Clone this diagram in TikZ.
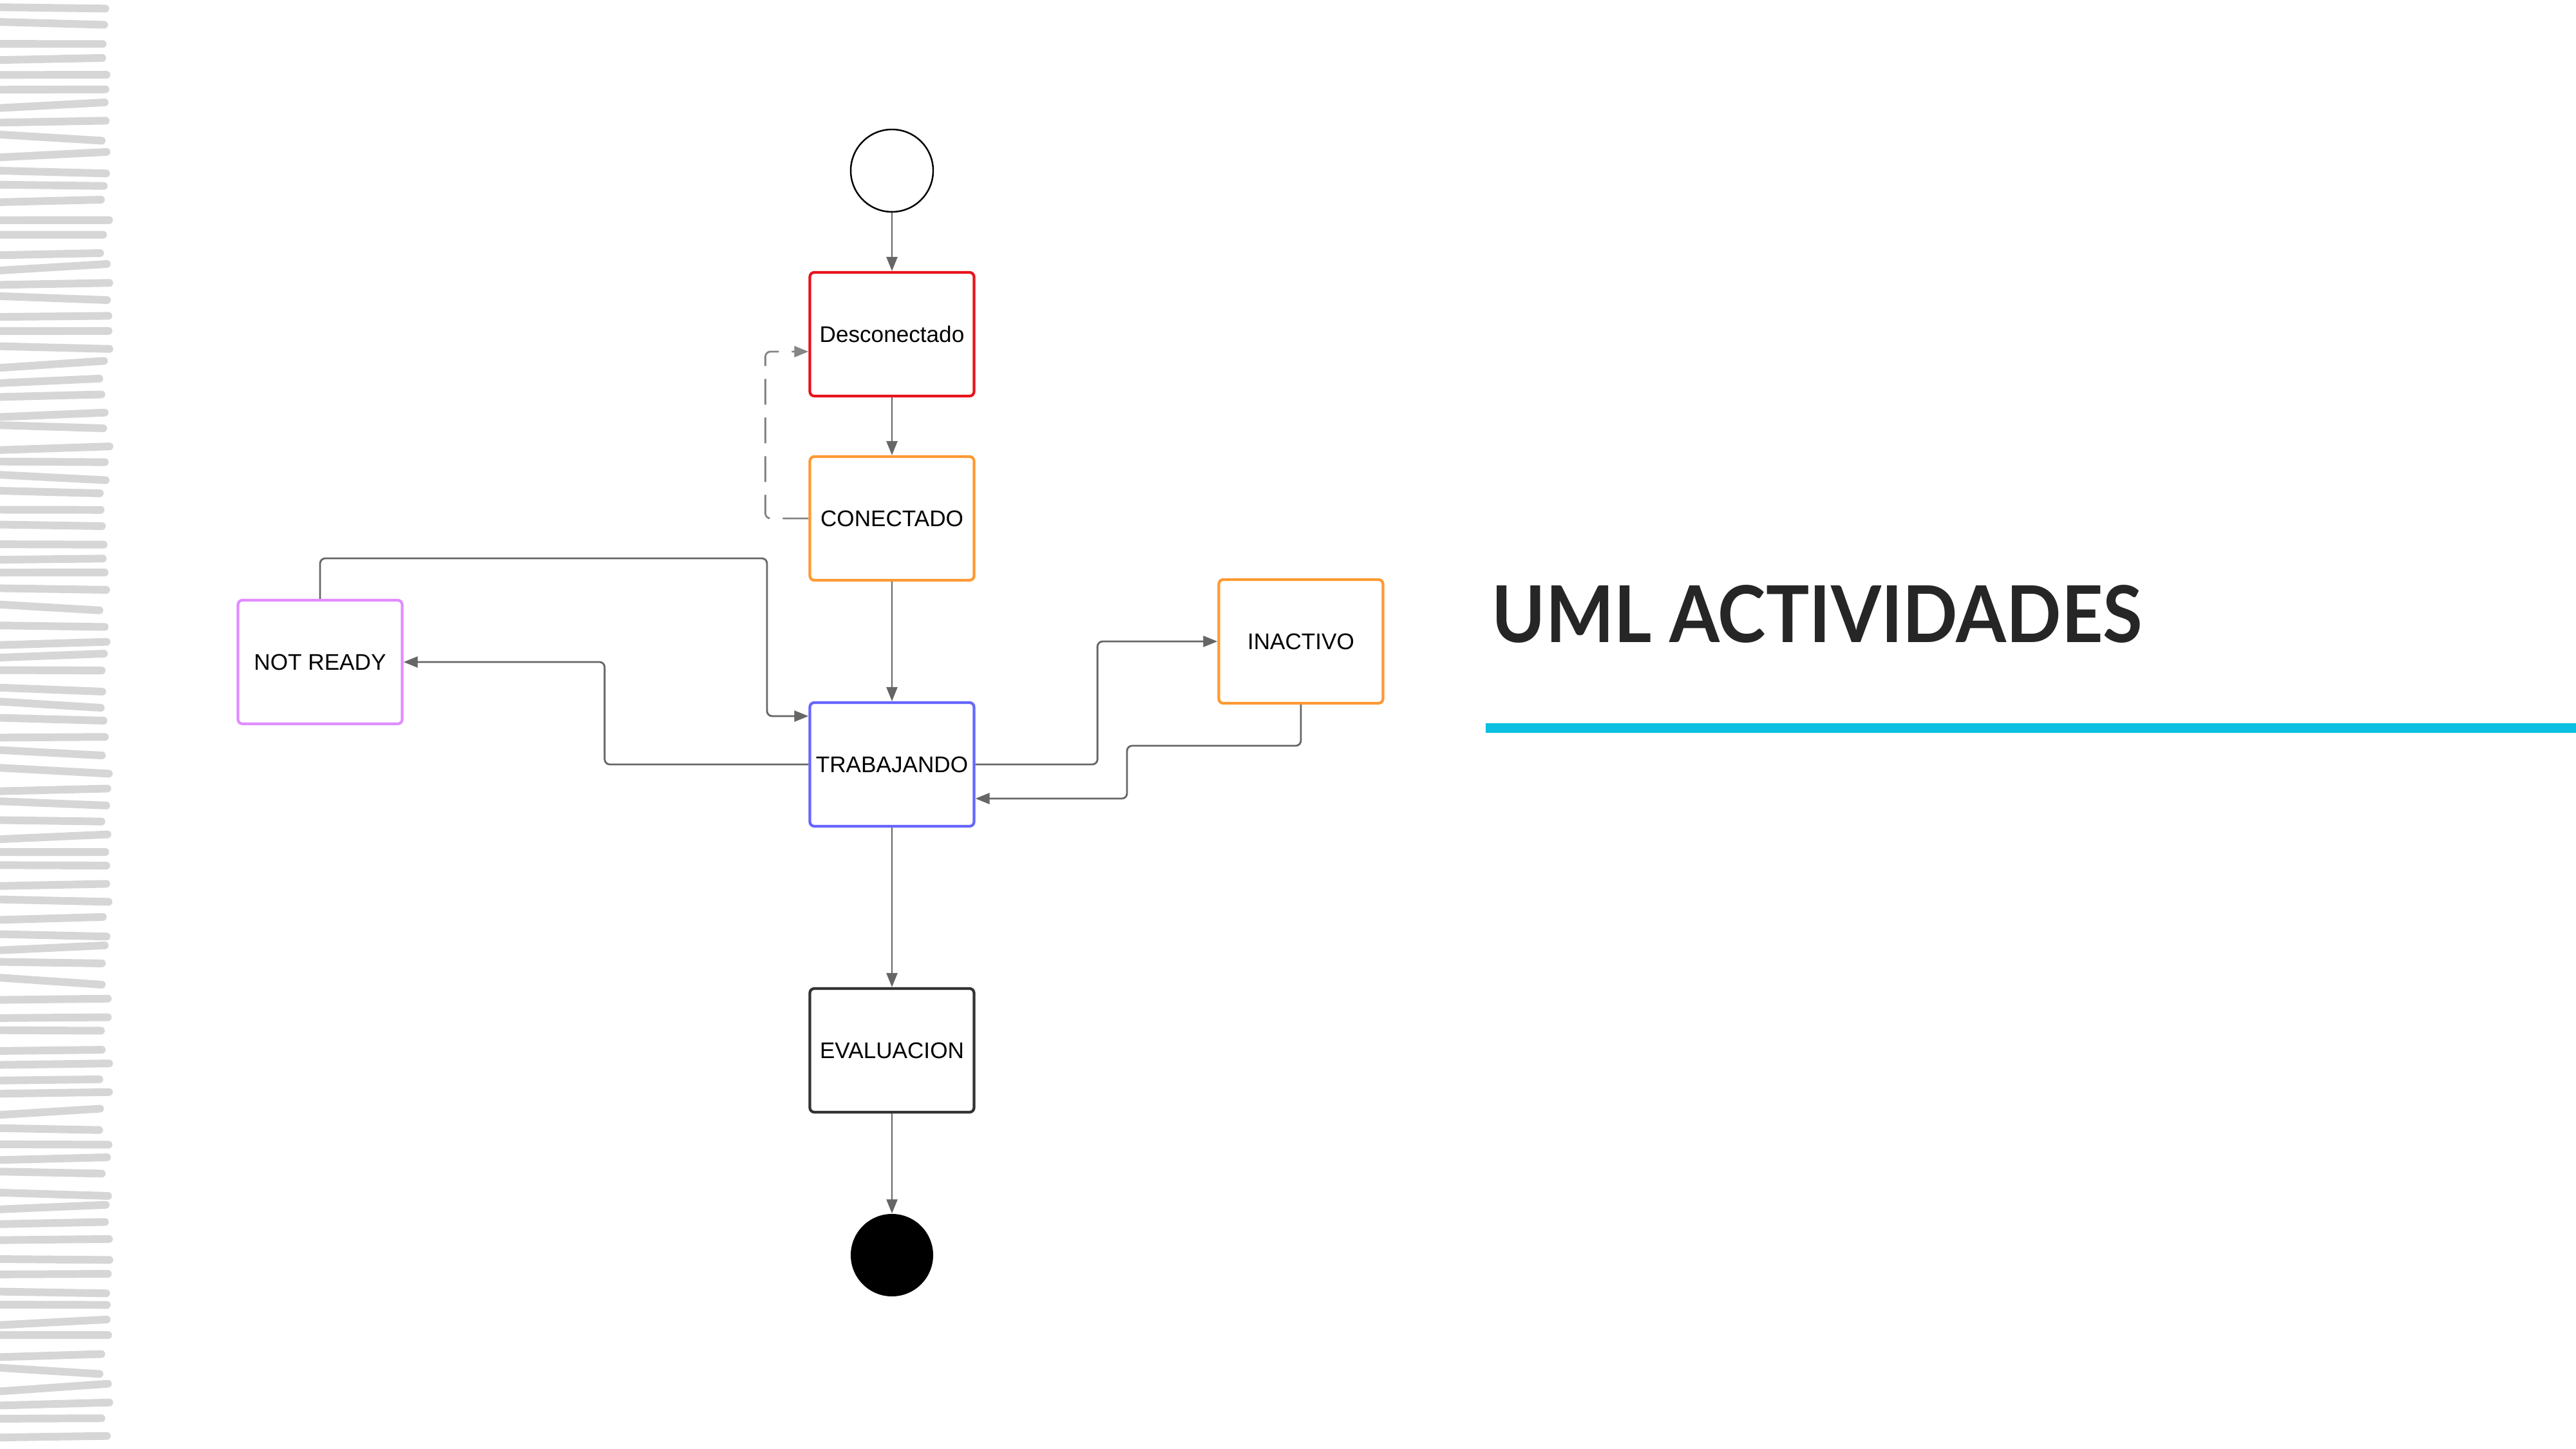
\documentclass[tikz,border=0pt]{standalone}
\usepackage{graphicx}
\usepackage{fontspec}
\setmainfont{Liberation Sans}
\newfontfamily\titulofont{Lato}
\usetikzlibrary{arrows.meta}
\definecolor{rojo}{HTML}{E8141C}
\definecolor{naranja}{HTML}{FF9933}
\definecolor{azul}{HTML}{6666FF}
\definecolor{violeta}{HTML}{E08CFF}
\definecolor{negro}{HTML}{333333}
\definecolor{gris}{HTML}{666666}
\definecolor{grisclaro}{HTML}{D6D6D6}
\definecolor{cian}{HTML}{0BBFE0}
\definecolor{titulo}{HTML}{262626}

\begin{document}
\begin{tikzpicture}
        \tikzstyle{every node}=[font=\fontsize{10}{12}\selectfont]
        \tikzstyle{estado}=[draw, rounded corners=0.7mm, line width=1.2pt, minimum width=2.55cm, minimum height=1.92cm, inner sep=0pt, fill=white]
        \tikzstyle{conector}=[draw=gris, line width=0.8pt, rounded corners=0.8mm, -{Triangle[length=2.2mm,width=1.7mm]}]
        \tikzstyle{trazo}=[draw=grisclaro, line width=3.4pt, line cap=round]

        \useasboundingbox (0,0) rectangle (40,-22.5);
        \fill[white] (0,0) rectangle (40,-22.5);

        \pgfmathsetseed{7}
        \foreach \i in {0,...,88}{
            \pgfmathsetmacro{\ya}{-(0.12+0.252*\i+0.08*rand)}
            \pgfmathsetmacro{\yb}{-(0.12+0.252*\i+0.06*rand)}
            \pgfmathsetmacro{\xb}{1.62+0.08*rand}
            \draw[trazo] (-0.2,\ya) -- (\xb,\yb);
        }

        \node[circle, draw, line width=0.7pt, minimum size=1.28cm] (inicio) at (13.85,-2.65) {};
        \node[estado, draw=rojo] (desc) at (13.85,-5.19) {Desconectado};
        \node[estado, draw=naranja] (con) at (13.85,-8.05) {CONECTADO};
        \node[estado, draw=azul] (trab) at (13.85,-11.87) {TRABAJANDO};
        \node[estado, draw=violeta] (notr) at (4.97,-10.28) {NOT READY};
        \node[estado, draw=naranja] (inac) at (20.20,-9.96) {INACTIVO};
        \node[estado, draw=negro] (eval) at (13.85,-16.31) {EVALUACION};
        \node[circle, fill=black, minimum size=1.28cm] (fin) at (13.85,-19.49) {};

        \coordinate (c1) at (11.91,-8.67);
        \coordinate (c4) at (17.50,-11.58);

        \draw [conector] (inicio) -- (desc);
        \draw [conector] (desc) -- (con);
        \draw [conector, draw=gris!80, dash pattern=on 4mm off 2mm] (con.west) -- ++(-0.67,0) |- ([yshift=-2.7mm]desc.west);
        \draw [conector] (con) -- (trab);
        \draw [conector] (notr.north) |- (c1) |- ([yshift=7.5mm]trab.west);
        \draw [conector] (trab.west) -- ++(-3.165,0) |- (notr.east);
        \draw [conector] (trab.east) -- ++(1.895,0) |- (inac.west);
        \draw [conector] (inac.south) |- (c4) |- ([yshift=-5.3mm]trab.east);
        \draw [conector] (trab) -- (eval);
        \draw [conector] (eval) -- (fin);

        \node[anchor=base west, inner sep=0pt, text=titulo] (tit) at (23.16,-9.98) {\resizebox{10.1cm}{0.89cm}{\titulofont\bfseries UML ACTIVIDADES}};
        \fill[cian] (23.07,-11.235) rectangle (40,-11.385);
\end{tikzpicture}
\end{document}
